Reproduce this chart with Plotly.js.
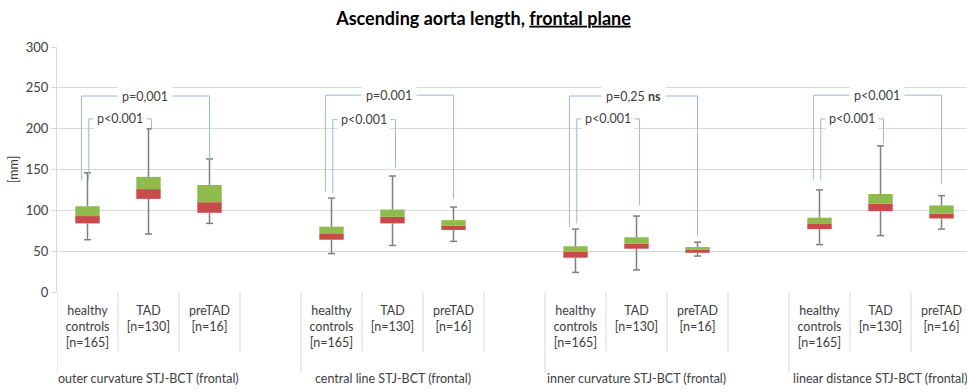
<!DOCTYPE html>
<html>
<head>
<meta charset="utf-8">
<script src="https://cdn.plot.ly/plotly-3.0.1.min.js"></script>
<style>html,body{margin:0;padding:0;background:#fff;}#chart{width:967px;height:392px;}</style>
</head>
<body>
<div id="chart"></div>
<script>
// ---- data ----
const groups = ['outer curvature STJ-BCT (frontal)', 'central line STJ-BCT (frontal)', 'inner curvature STJ-BCT (frontal)', 'linear distance STJ-BCT (frontal)'];
const cohortLabels = ['healthy<br>controls<br>[n=165]', 'TAD<br>[n=130]', 'preTAD<br>[n=16]'];
// per group: healthy, TAD, preTAD
const whiskerMax = [146, 200, 163,  115, 142, 104,  77, 93, 61,  125, 179, 118];
const q3         = [105, 141, 131,   80, 101,  88,  56, 67, 55,   91, 120, 106];
const median     = [ 93, 126, 110,   71,  92,  81,  49, 59, 52,   84, 108,  96];
const q1         = [ 84, 114,  97,   64,  84,  76,  42, 53, 48,   77,  99,  90];
const whiskerMin = [ 64,  71,  84,   47,  57,  62,  24, 27, 44,   58,  69,  77];
// significance brackets per group
const outerLabel = ['p=0,001', 'p=0.001', 'p=0,25 <b>ns</b>', 'p<0.001'];
const innerLabel = ['p<0.001', 'p<0.001', 'p<0.001', 'p<0.001'];
const outerTop = [240, 241, 240, 241];
const innerTop = [212, 211, 212, 212];
const outerLeftEnd  = [137, 123, 80, 138];
const innerLeftEnd  = [137, 121, 84, 138];
const innerRightEnd = [198, 152, 106, 182];
const outerRightEnd = [162, 114, 68, 133];
const yTicks = [0, 50, 100, 150, 200, 250, 300];

// ---- layout helpers ----
const SLOTS = 4; // 3 cohorts + 1 spacer per group
const xs = [], ticktext = [];
groups.forEach((g, gi) => cohortLabels.forEach((c, ci) => { xs.push(gi * SLOTS + ci); ticktext.push(c); }));

const GREEN = '#8fba4c', RED = '#c84a4b', GRID = '#d9d9d9', BLUE = '#9db8dd';
const FONT = 'Lato, "Open Sans", sans-serif';

const traces = [];
traces.push({type: 'bar', x: xs, base: q1, y: median.map((m, i) => m - q1[i]), width: 0.4,
  marker: {color: RED, line: {width: 0}}, hoverinfo: 'skip', showlegend: false});
traces.push({type: 'bar', x: xs, base: median, y: q3.map((m, i) => m - median[i]), width: 0.4,
  marker: {color: GREEN, line: {width: 0}}, hoverinfo: 'skip', showlegend: false});

// whiskers
const wx = [], wy = [];
xs.forEach((x, i) => {
  wx.push(x, x, null, x, x, null);
  wy.push(whiskerMin[i], q1[i], null, q3[i], whiskerMax[i], null);
});
traces.push({type: 'scatter', mode: 'lines', x: wx, y: wy, line: {color: '#7f7f7f', width: 1.5},
  hoverinfo: 'skip', showlegend: false});
traces.push({type: 'scatter', mode: 'markers', x: xs.concat(xs), y: whiskerMin.concat(whiskerMax),
  marker: {symbol: 'line-ew', size: 5, line: {color: '#7f7f7f', width: 1.5}}, hoverinfo: 'skip', showlegend: false});

// brackets
const annotations = [];
groups.forEach((g, gi) => {
  const h = gi * SLOTS, t = h + 1, p = h + 2;
  const oL = h - 0.1, iL = h + 0.02, iR = t + 0.05, oR = p;
  traces.push({type: 'scatter', mode: 'lines', x: [oL, oL, oR, oR], y: [outerLeftEnd[gi], outerTop[gi], outerTop[gi], outerRightEnd[gi]],
    line: {color: BLUE, width: 1}, hoverinfo: 'skip', showlegend: false});
  traces.push({type: 'scatter', mode: 'lines', x: [iL, iL, iR, iR], y: [innerLeftEnd[gi], innerTop[gi], innerTop[gi], innerRightEnd[gi]],
    line: {color: BLUE, width: 1}, hoverinfo: 'skip', showlegend: false});
  annotations.push({x: (oL + oR) / 2, y: outerTop[gi], xref: 'x', yref: 'y', text: outerLabel[gi], showarrow: false,
    bgcolor: 'white', borderpad: 4, font: {family: FONT, size: 12.5, color: '#404040'}});
  annotations.push({x: (iL + iR) / 2, y: innerTop[gi], xref: 'x', yref: 'y', text: innerLabel[gi], showarrow: false,
    bgcolor: 'white', borderpad: 3, font: {family: FONT, size: 12.5, color: '#404040'}});
  annotations.push({x: t, y: -0.355, xref: 'x', yref: 'paper', text: g, showarrow: false, yanchor: 'middle',
    font: {family: FONT, size: 12.5, color: '#404040'}});
});

// category table lines
const shapes = [];
for (let k = 0; k <= groups.length * SLOTS; k++) {
  const long = (k % SLOTS === 0);
  shapes.push({type: 'line', xref: 'x', yref: 'paper', x0: k - 0.5, x1: k - 0.5, y0: 0, y1: long ? -0.33 : -0.245,
    line: {color: GRID, width: 1}});
}

const layout = {
  width: 967, height: 392,
  margin: {l: 57, r: 0, t: 47, b: 100},
  paper_bgcolor: 'white', plot_bgcolor: 'white',
  font: {family: FONT, color: '#595959'},
  barmode: 'overlay',
  title: {text: '<b>Ascending aorta length, <span style="text-decoration:underline">frontal plane</span></b>',
    x: 0.5, xanchor: 'center', y: 0.953, yanchor: 'middle', font: {family: FONT, size: 18, color: '#000'}},
  xaxis: {range: [-0.5, 14.418], tickvals: xs, ticktext: ticktext, ticks: '', showgrid: false, zeroline: false,
    showline: false, tickfont: {family: FONT, size: 12.5, color: '#404040'}, ticklabelstandoff: 9, fixedrange: true},
  yaxis: {range: [0, 300], tickvals: yTicks, showgrid: true, gridcolor: GRID, gridwidth: 1.2, zeroline: false,
    showline: true, linecolor: GRID, ticks: 'outside', ticklen: 5, tickcolor: GRID,
    tickfont: {family: FONT, size: 13, color: '#404040'},
    title: {text: '[mm]', standoff: 4, font: {family: FONT, size: 12.5, color: '#404040'}}, fixedrange: true},
  annotations: annotations,
  shapes: shapes,
  showlegend: false
};

Plotly.newPlot('chart', traces, layout, {displayModeBar: false, staticPlot: true});
</script>
</body>
</html>
